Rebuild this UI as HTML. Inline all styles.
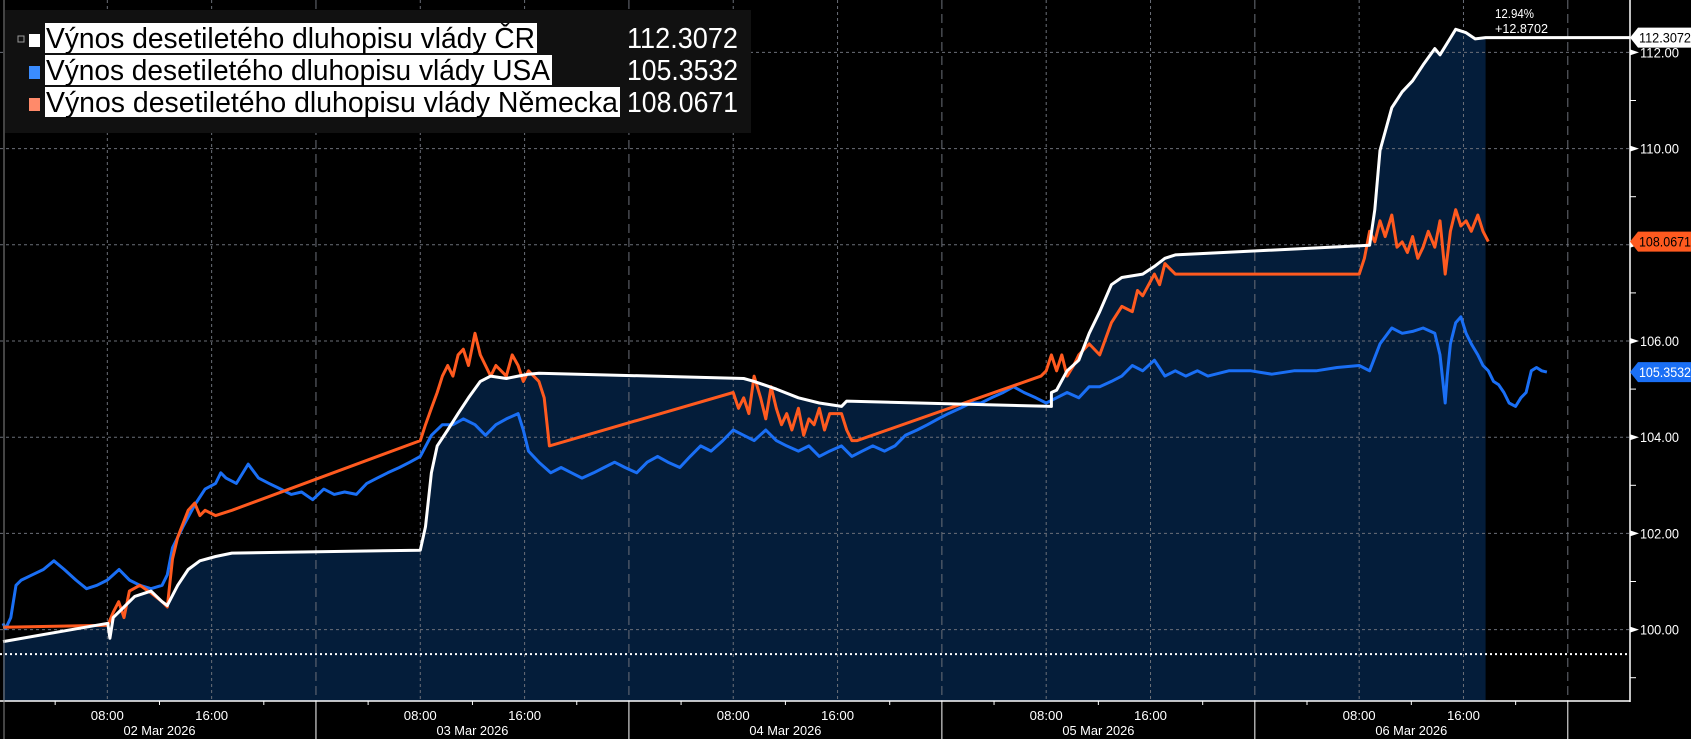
<!DOCTYPE html>
<html><head><meta charset="utf-8">
<style>
html,body{margin:0;padding:0;background:#000;}
svg{display:block;}
text{font-family:"Liberation Sans Narrow","Liberation Sans",sans-serif;}
</style></head>
<body>
<svg id="chart" width="1691" height="739" viewBox="0 0 1691 739" xmlns="http://www.w3.org/2000/svg">
<rect x="0" y="0" width="1691" height="739" fill="#000"/>
<g id="fill"></g>
<g id="grid"></g>
<g id="series"></g>
<g id="axes"></g>
<g id="legend"></g>
</svg>
<script>
// Chart data (hours from 02 Mar 2026 00:00, index values)
const czTimes = [0,8.04,8.2,8.45,9.28,10.1,11.35,12.2,12.6,13.4,14.2,15.1,16.3,17.55,32.0,32.4,32.85,33.3,34.1,34.9,35.7,36.6,37.4,38.6,39.5,40.3,41.1,56.8,57.6,59.3,61.0,62.6,64.3,64.7,80.4,80.4,80.8,81.6,82.5,83.3,84.1,85.0,85.8,87.4,88.3,89.1,89.9,104.8,105.2,105.6,106.5,107.3,108.1,108.9,109.8,110.2,111.0,111.4,112.2,112.9,113.7];
const czValues = [99.75,100.13,99.82,100.25,100.47,100.69,100.80,100.58,100.5,100.92,101.25,101.43,101.52,101.59,101.65,102.14,103.26,103.82,104.15,104.49,104.82,105.16,105.27,105.22,105.27,105.31,105.33,105.22,105.16,105.0,104.82,104.71,104.64,104.75,104.64,104.93,104.98,105.38,105.6,106.16,106.61,107.17,107.32,107.39,107.55,107.72,107.79,107.99,108.73,109.96,110.85,111.18,111.41,111.74,112.08,111.95,112.3,112.48,112.41,112.28,112.3072];
const deTimes = [0,8.04,8.45,8.87,9.28,9.69,10.5,11.35,12.2,12.6,13.0,13.4,14.2,14.7,15.1,15.5,16.3,17.55,32.0,32.4,32.85,33.3,33.7,34.1,34.5,34.9,35.3,35.7,36.2,36.6,37.0,37.4,37.8,38.6,39.05,39.5,39.9,40.3,41.1,41.5,41.9,56.0,56.4,56.8,57.2,57.6,58.1,58.5,58.9,59.3,59.7,60.1,60.5,61.0,61.4,61.8,62.2,62.6,63.0,63.4,64.3,64.7,65.1,65.5,79.6,80.0,80.4,80.8,81.2,81.6,82.1,82.5,83.3,84.1,85.0,85.8,86.6,87.0,87.4,88.3,88.7,89.1,89.5,89.9,104.0,104.4,104.8,105.2,105.6,106.0,106.5,106.9,107.3,107.7,108.1,108.5,108.9,109.3,109.8,110.2,110.6,111.0,111.4,111.8,112.2,112.6,113.1,113.5,113.9];
const deValues = [100.05,100.09,100.36,100.58,100.25,100.80,100.92,100.76,100.58,100.47,101.47,101.92,102.48,102.63,102.37,102.48,102.37,102.48,103.93,104.26,104.6,104.93,105.27,105.49,105.27,105.71,105.83,105.49,106.16,105.71,105.49,105.27,105.49,105.27,105.71,105.49,105.16,105.38,105.16,104.82,103.82,104.93,104.6,104.82,104.49,105.27,104.82,104.38,105.05,104.6,104.26,104.49,104.15,104.6,104.04,104.38,104.26,104.6,104.15,104.49,104.49,104.15,103.93,103.93,105.27,105.38,105.71,105.38,105.71,105.27,105.49,105.71,105.94,105.71,106.38,106.72,106.61,107.05,106.94,107.39,107.17,107.61,107.5,107.39,107.39,107.72,108.28,108.06,108.5,108.17,108.62,107.95,108.06,107.84,108.17,107.72,107.95,108.28,107.95,108.5,107.39,108.28,108.73,108.39,108.5,108.28,108.62,108.28,108.0671];
const usTimes = [0,0.2,0.6,1.0,1.4,2.25,3.1,3.9,4.7,5.6,6.4,7.2,8.0,8.9,9.7,10.5,11.35,12.2,12.6,13.0,13.8,14.7,15.5,16.3,16.7,17.1,17.9,18.8,19.6,20.4,21.3,22.1,22.9,23.75,24.6,25.4,26.2,27.1,27.9,28.7,29.5,30.4,31.2,32.0,32.85,33.7,34.5,35.3,36.2,37.0,37.8,38.6,39.5,39.9,40.3,41.1,42.0,42.8,43.6,44.4,45.3,46.1,46.9,47.7,48.6,49.4,50.2,51.0,51.9,52.7,53.5,54.3,55.2,56.0,56.8,57.6,58.5,59.3,60.1,61.0,61.8,62.6,63.4,64.3,65.1,65.9,66.7,67.6,68.4,69.2,70.1,70.9,71.7,72.5,73.4,74.2,75.0,75.8,76.7,77.5,78.3,79.2,80.0,80.8,81.6,82.5,83.3,84.1,85.0,85.8,86.6,87.4,88.3,89.1,89.9,90.7,91.6,92.4,94.0,95.7,97.3,99.0,100.7,102.3,104.0,104.8,105.6,106.5,107.3,108.1,108.9,109.8,110.2,110.6,110.75,111.0,111.4,111.8,112.2,112.6,113.1,113.5,113.9,114.3,114.7,115.1,115.5,116.0,116.4,116.8,117.2,117.6,118.0,118.4];
const usValues = [100.13,100.02,100.25,100.92,101.03,101.14,101.25,101.43,101.25,101.03,100.85,100.92,101.03,101.25,101.03,100.92,100.85,100.92,101.14,101.7,102.14,102.59,102.92,103.04,103.26,103.15,103.04,103.44,103.15,103.04,102.92,102.81,102.86,102.7,102.92,102.81,102.86,102.81,103.04,103.15,103.26,103.37,103.48,103.6,104.04,104.26,104.26,104.38,104.26,104.04,104.26,104.38,104.49,104.15,103.71,103.48,103.26,103.37,103.26,103.15,103.26,103.37,103.48,103.37,103.26,103.48,103.6,103.48,103.37,103.6,103.82,103.71,103.93,104.15,104.04,103.93,104.15,103.93,103.82,103.71,103.82,103.6,103.71,103.82,103.6,103.71,103.82,103.71,103.82,104.04,104.15,104.26,104.38,104.49,104.6,104.71,104.71,104.82,104.93,105.05,104.93,104.82,104.71,104.82,104.93,104.82,105.05,105.05,105.16,105.27,105.49,105.38,105.6,105.27,105.38,105.27,105.38,105.27,105.38,105.38,105.31,105.38,105.38,105.45,105.49,105.38,105.94,106.27,106.16,106.2,106.27,106.16,105.71,104.71,105.27,105.94,106.38,106.5,106.16,105.94,105.71,105.49,105.38,105.16,105.09,104.93,104.71,104.64,104.82,104.93,105.38,105.45,105.38,105.3532];
const yTicks = [100,102,104,106,108,110,112];
const yMinorTicks = [99,101,103,105,107,109,111];
const dayLabels = ["02 Mar 2026","03 Mar 2026","04 Mar 2026","05 Mar 2026","06 Mar 2026"];
const hourLabels = ["08:00","16:00"];
const hourOffsets = [8,16];
const baselineValue = 99.49;
const changePct = "12.94%";
const changeAbs = "+12.8702";

const NS = "http://www.w3.org/2000/svg";
const X0 = 3, HOUR = 13.04, AXIS_X = 1630, AXIS_Y = 701;
const x = t => X0 + t * HOUR;
const y = v => 52.4 + (112 - v) * 48.1;
function mk(tag, attrs, parent, txt) {
  const e = document.createElementNS(NS, tag);
  for (const k in attrs) e.setAttribute(k, attrs[k]);
  if (txt !== undefined) e.textContent = txt;
  parent.appendChild(e);
  return e;
}
const gFill = document.getElementById('fill'), gGrid = document.getElementById('grid'),
      gSer = document.getElementById('series'), gAx = document.getElementById('axes'),
      gLeg = document.getElementById('legend');

let fd = `M${x(czTimes[0])},${AXIS_Y}`;
czTimes.forEach((t, i) => fd += ` L${x(t).toFixed(1)},${y(czValues[i]).toFixed(1)}`);
fd += ` L${x(czTimes[czTimes.length-1]).toFixed(1)},${AXIS_Y} Z`;
const fillEl = mk('path', {d: fd, fill: '#041d3a'}, gFill);



yTicks.forEach(v => {
  const l = mk('line', {x1: 0, x2: AXIS_X, y1: y(v), y2: y(v), stroke: '#6b6f78', 'stroke-width': 1, 'stroke-dasharray': '3,3'}, gGrid);
  
  
});
dayLabels.forEach((d, i) => {
  hourOffsets.forEach(h => {
    const xx = x(i * 24 + h);
    const l = mk('line', {x1: xx, x2: xx, y1: 0, y2: AXIS_Y, stroke: '#6b6f78', 'stroke-width': 1, 'stroke-dasharray': '3,3'}, gGrid);
    
    
  });
  const bx = x((i + 1) * 24);
  const b = mk('line', {x1: bx, x2: bx, y1: 0, y2: AXIS_Y, stroke: '#6b6f78', 'stroke-width': 1, 'stroke-dasharray': '9,5'}, gGrid);
  
  
});
const bl = mk('line', {x1: 0, x2: AXIS_X, y1: y(baselineValue), y2: y(baselineValue), stroke: '#fff', 'stroke-width': 2, 'stroke-dasharray': '2,3'}, gGrid);



function drawLine(times, values, color, name, extend) {
  let d = '';
  times.forEach((t, i) => d += (i ? ' L' : 'M') + x(t).toFixed(1) + ',' + y(values[i]).toFixed(1));
  if (extend) d += ` L${AXIS_X},${y(values[values.length-1]).toFixed(1)}`;
  const p = mk('path', {d: d, fill: 'none', stroke: color, 'stroke-width': 3, 'stroke-linejoin': 'round'}, gSer);
  
  
}
drawLine(usTimes, usValues, '#1a6ff5', 'us-yield-line', false);
drawLine(deTimes, deValues, '#ff5a1f', 'de-yield-line', false);
drawLine(czTimes, czValues, '#ffffff', 'cz-yield-line', true);

const ya = mk('line', {x1: AXIS_X, x2: AXIS_X, y1: 0, y2: AXIS_Y + 1, stroke: '#fff', 'stroke-width': 1.5}, gAx);
 
const xa = mk('line', {x1: 0, x2: AXIS_X, y1: AXIS_Y, y2: AXIS_Y, stroke: '#fff', 'stroke-width': 1.5}, gAx);
 
const lx = mk('line', {x1: 4, x2: 4, y1: 0, y2: 739, stroke: '#888', 'stroke-width': 1}, gAx);
 
yTicks.forEach(v => {
  mk('polygon', {points: `${AXIS_X},${y(v)-3} ${AXIS_X+9},${y(v)} ${AXIS_X},${y(v)+3}`, fill: '#fff'}, gAx);
  const t = mk('text', {x: AXIS_X + 10, y: y(v) + 5, fill: '#fff', 'font-size': 14, textLength: 39, lengthAdjust: 'spacingAndGlyphs'}, gAx, v.toFixed(2));
  
  
});
yMinorTicks.forEach(v => mk('line', {x1: AXIS_X, x2: AXIS_X + 6, y1: y(v), y2: y(v), stroke: '#fff'}, gAx));
dayLabels.forEach((d, i) => {
  hourOffsets.forEach((h, j) => {
    const t = mk('text', {x: x(i * 24 + h), y: 720, fill: '#fff', 'font-size': 13, 'text-anchor': 'middle', textLength: 33, lengthAdjust: 'spacingAndGlyphs'}, gAx, hourLabels[j]);
    
    
  });
  [4, 12, 20].forEach(h => mk('line', {x1: x(i*24+h), x2: x(i*24+h), y1: AXIS_Y, y2: AXIS_Y + 4, stroke: '#fff'}, gAx));
  const bx = x((i + 1) * 24);
  mk('line', {x1: bx, x2: bx, y1: AXIS_Y, y2: 739, stroke: '#fff'}, gAx);
  const dl = mk('text', {x: x(i * 24 + 12), y: 735, fill: '#fff', 'font-size': 13, 'text-anchor': 'middle', textLength: 72, lengthAdjust: 'spacingAndGlyphs'}, gAx, d);
  
  
});

function tag(v, bg, fg, name) {
  const yy = y(v);
  mk('polygon', {points: `${AXIS_X},${yy} ${AXIS_X+8},${yy-10} 1691,${yy-10} 1691,${yy+10} ${AXIS_X+8},${yy+10}`, fill: bg}, gAx);
  const t = mk('text', {x: AXIS_X + 9, y: yy + 5, fill: fg, 'font-size': 14, textLength: 52, lengthAdjust: 'spacingAndGlyphs'}, gAx, v.toFixed(4));
  
  
}
tag(czValues[czValues.length-1], '#ffffff', '#000', 'cz-last-value-tag');
tag(deValues[deValues.length-1], '#ff5a1f', '#000', 'de-last-value-tag');
tag(usValues[usValues.length-1], '#1a6ff5', '#fff', 'us-last-value-tag');
const c1 = mk('text', {x: 1495, y: 18, fill: '#fff', 'font-size': 13, textLength: 39, lengthAdjust: 'spacingAndGlyphs'}, gAx, changePct);
 
const c2 = mk('text', {x: 1495, y: 33, fill: '#fff', 'font-size': 13, textLength: 53, lengthAdjust: 'spacingAndGlyphs'}, gAx, changeAbs);
 

const lb = mk('rect', {x: 5, y: 10, width: 746, height: 123, fill: '#111'}, gLeg);
 
mk('rect', {x: 18, y: 36, width: 6, height: 6, fill: 'none', stroke: '#999'}, gLeg);
const rows = [
  {name: 'Výnos desetiletého dluhopisu vlády ČR', val: czValues[czValues.length-1], col: '#ffffff', w: 492, y0: 23, dn: 'legend-entry-cz'},
  {name: 'Výnos desetiletého dluhopisu vlády USA', val: usValues[usValues.length-1], col: '#3a8cff', w: 507, y0: 55, dn: 'legend-entry-us'},
  {name: 'Výnos desetiletého dluhopisu vlády Německa', val: deValues[deValues.length-1], col: '#ff8a6a', w: 575, y0: 87, dn: 'legend-entry-de'}
];
rows.forEach(r => {
  const g = mk('g', {}, gLeg);
  
  
  mk('rect', {x: 29, y: r.y0 + 11, width: 11, height: 13, fill: r.col}, g);
  mk('rect', {x: 45, y: r.y0, width: r.w, height: 30, fill: '#fff'}, g);
  mk('text', {x: 46, y: r.y0 + 25, fill: '#000', 'font-size': 29, textLength: r.w - 3, lengthAdjust: 'spacingAndGlyphs'}, g, r.name);
  mk('text', {x: 738, y: r.y0 + 25, fill: '#fff', 'font-size': 29, 'text-anchor': 'end', textLength: 111, lengthAdjust: 'spacingAndGlyphs'}, g, r.val.toFixed(4));
});
</script>
</body></html>
